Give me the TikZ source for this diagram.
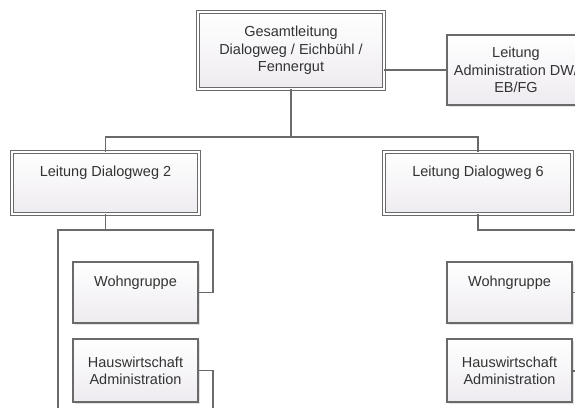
\documentclass[tikz,border=0pt]{standalone}
\usepackage{fontspec}
\setmainfont{Liberation Sans}
\usetikzlibrary{shadows}
\definecolor{boxbot}{HTML}{EEEBF0}
\definecolor{edge}{HTML}{6A6A6A}
\definecolor{txtc}{HTML}{333333}
\tikzset{
  x=1pt, y=-1pt,
  box/.style={draw=edge, line width=1.1pt, top color=white, bottom color=boxbot,
    drop shadow={opacity=0.22, shadow xshift=1.5pt, shadow yshift=-1.5pt},
    inner sep=0pt, outer sep=0pt},
  dbox/.style={box, double=white, double distance=1.8pt, line width=1pt},
  lbl/.style={text=txtc, align=center, inner sep=0pt,
    font=\fontsize{14.5}{17.3}\selectfont},
  conn/.style={draw=edge, line width=1.1pt}
}
\begin{document}
\begin{tikzpicture}
\useasboundingbox (0,0) rectangle (575,407);
\clip (0,0) rectangle (575,407);
% top
\node[dbox, minimum width=186pt, minimum height=77pt] (top) at (291,50.5) {};
\node[lbl] (toplbl) at (top.center) {Gesamtleitung\\Dialogweg / Eichbühl /\\Fennergut};
% admin
\node[box, minimum width=138pt, minimum height=70pt] (adm) at (516,70) {};
\node[lbl] (admlbl) at (adm.center) {Leitung\\Administration DW/\\EB/FG};
% leaders
\node[dbox, minimum width=187pt, minimum height=62pt] (l2) at (105.5,183) {};
\node[lbl, anchor=center] (l2lbl) at (105.5,173) {Leitung Dialogweg 2};
\node[dbox, minimum width=188pt, minimum height=62pt] (l6) at (478,183) {};
\node[lbl, anchor=center] (l6lbl) at (478,173) {Leitung Dialogweg 6};
% sub boxes
\node[box, minimum width=125pt, minimum height=61pt] (wg1) at (135.5,292.5) {};
\node[lbl] (wg1lbl) at (135.5,283) {Wohngruppe};
\node[box, minimum width=125pt, minimum height=63pt] (hw1) at (135.5,370.5) {};
\node[lbl] (hw1lbl) at (hw1.center) {Hauswirtschaft\\Administration};
\node[box, minimum width=125pt, minimum height=61pt] (wg2) at (509.5,292.5) {};
\node[lbl] (wg2lbl) at (509.5,283) {Wohngruppe};
\node[box, minimum width=125pt, minimum height=63pt] (hw2) at (509.5,370.5) {};
\node[lbl] (hw2lbl) at (hw2.center) {Hauswirtschaft\\Administration};
% coordinates
\coordinate (busL) at (105.5,137);
\coordinate (busR) at (478,137);
\coordinate (busM) at (291,137);
\coordinate (j2) at (105.5,230);
\coordinate (lfL) at (58,230);
\coordinate (lfR) at (213,230);
\coordinate (lbotA) at (58,420);
\coordinate (lbotB) at (213,420);
\coordinate (rR) at (600,230);
\coordinate (wg2end) at (600,292.5);
\coordinate (hw2end) at (600,371);
% connectors
\draw[conn] (top.east |- adm.west) -- (adm.west);
\draw[conn] (top.south) -- (busM);
\draw[conn] (l2.north) -- (busL) -- (busR) -- (l6.north);
\draw[conn] (l2.south) -- (j2);
\draw[conn] (lbotA) -- (lfL) -- (lfR) |- (wg1.east);
\draw[conn] (hw1.east) -| (lbotB);
\draw[conn] (l6.south) |- (rR);
\draw[conn] (wg2.east) -- (wg2end);
\draw[conn] (hw2.east |- hw2end) -- (hw2end);
\end{tikzpicture}
\end{document}
